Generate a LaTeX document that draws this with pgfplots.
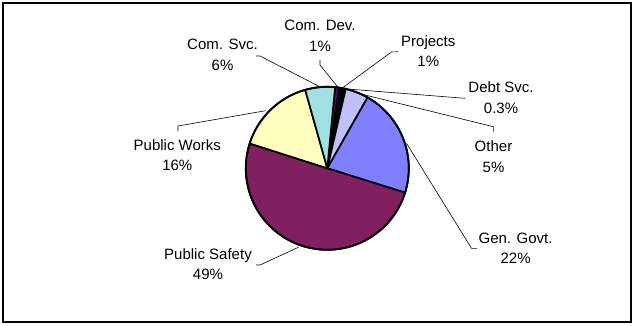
\documentclass[border=0pt]{standalone}
\usepackage{pgfplots}
\pgfplotsset{compat=1.18}
\usepackage{pgfplotstable}
\usepackage{fontspec}
\setmainfont{Liberation Sans}
\definecolor{cComDev}{HTML}{600080}
\definecolor{cProjects}{HTML}{000000}
\definecolor{cDebt}{HTML}{FFFFFF}
\definecolor{cOther}{HTML}{C0C0FF}
\definecolor{cGenGovt}{HTML}{8080FF}
\definecolor{cSafety}{HTML}{802060}
\definecolor{cWorks}{HTML}{FFFFC0}
\definecolor{cComSvc}{HTML}{A0E0E0}
\tikzset{lbl/.style={font=\fontsize{15}{20.5}\selectfont,align=center,inner sep=0pt}}
% slices clockwise, starting 5.5 deg clockwise from 12 o'clock
\pgfplotstableread{
value col
0.8 cComDev
1.0 cProjects
0.3 cDebt
4.6 cOther
21.6 cGenGovt
50.1 cSafety
15.7 cWorks
5.9 cComSvc
}\piedata
\begin{document}
\begin{tikzpicture}
\begin{axis}[x=1pt,y=1pt,xmin=0,xmax=634,ymin=0,ymax=325,hide axis,scale only axis,clip=false]
\pgfplotsextra{
  \fill[white] (axis cs:0,0) rectangle (axis cs:634,325);
  \xdef\curang{84.5}
  \pgfplotstablegetrowsof{\piedata}
  \pgfmathtruncatemacro\nrows{\pgfplotsretval-1}
  \foreach \i in {0,...,\nrows}{
    \pgfplotstablegetelem{\i}{value}\of\piedata
    \pgfmathsetmacro\endang{\curang-3.6*\pgfplotsretval}
    \pgfplotstablegetelem{\i}{col}\of\piedata
    \edef\slicecol{\pgfplotsretval}
    \filldraw[fill=\slicecol,draw=black,line width=1.7pt,line join=round]
      (axis cs:327.3,156.7) -- ++(\curang:81.5pt)
      arc[start angle=\curang,end angle=\endang,radius=81.5pt] -- cycle;
    \xdef\curang{\endang}
  }
  \draw[line width=1.8pt] (axis cs:327.3,156.7) circle[radius=81.5pt];
  \draw[line width=2pt] (axis cs:3,3) rectangle (axis cs:631,322);
}
% leader lines
\addplot[black,line width=0.6pt,mark=none] coordinates {(320,265) (320,260) (338,237.7)};
\addplot[black,line width=0.6pt,mark=none] coordinates {(398,273.3) (391.5,273) (343,237.5)};
\addplot[black,line width=0.6pt,mark=none] coordinates {(256,269) (260,269) (318.3,239)};
\addplot[black,line width=0.6pt,mark=none] coordinates {(347,236) (465,226.7)};
\addplot[black,line width=0.6pt,mark=none] coordinates {(357,232) (493.3,198.3) (493.3,193.3)};
\addplot[black,line width=0.6pt,mark=none] coordinates {(406.5,181.7) (471.5,76.7) (477,76.7)};
\addplot[black,line width=0.6pt,mark=none] coordinates {(298.3,77.7) (260,60) (256,60)};
\addplot[black,line width=0.6pt,mark=none] coordinates {(265.7,214.3) (178,199) (178,194)};
% labels
\node[lbl] at (axis cs:320,289) {Com. Dev.\\1\%};
\node[lbl] at (axis cs:428.3,274) {Projects\\1\%};
\node[lbl] at (axis cs:222.5,270) {Com. Svc.\\6\%};
\node[lbl] at (axis cs:501,227.5) {Debt Svc.\\0.3\%};
\node[lbl] at (axis cs:493.5,168.3) {Other\\5\%};
\node[lbl] at (axis cs:515.6,76.7) {Gen. Govt.\\22\%};
\node[lbl] at (axis cs:208,61) {Public Safety\\49\%};
\node[lbl] at (axis cs:177.3,170) {Public Works\\16\%};
\end{axis}
\end{tikzpicture}
\end{document}
